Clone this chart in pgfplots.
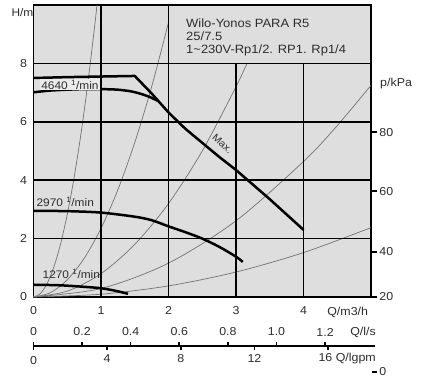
\documentclass[border=0pt]{standalone}
\usepackage{fontspec}
\setmainfont{Liberation Sans}[FakeStretch=1.08]
\usepackage{pgfplots}
\pgfplotsset{compat=1.18}
\definecolor{bg}{RGB}{222,222,222}
\definecolor{txt}{RGB}{45,45,45}
\definecolor{sys}{RGB}{115,115,115}
\begin{document}
\begin{tikzpicture}[
  lab/.style={font=\fontsize{11.5}{13}\selectfont, text=txt, inner sep=0pt},
]
\fill[bg] (0,0) rectangle (337.5pt,292pt);
\begin{axis}[
  at={(0,0)}, anchor=south west,
  scale only axis, width=337.5pt, height=292pt,
  xmin=0, xmax=5, ymin=0, ymax=10,
  axis line style={line width=1.8pt},
  xtick={0,1,2,3,4}, ytick={0,2,4,6,8},
  major tick length=0pt,
  tick label style={font=\fontsize{11.5}{13}\selectfont, text=txt},
  /pgf/number format/assume math mode=true,
  xticklabel style={yshift=-6pt},
  yticklabel style={xshift=-3pt},
  clip=false,
]
% system curves
\addplot[sys, line width=0.7pt, smooth] coordinates {(0,0)(0.1,0.113)(0.2,0.452)(0.3,1.017)(0.4,1.808)(0.5,2.825)(0.6,4.068)(0.7,5.537)(0.8,7.232)(0.9,9.153)(0.9407,10)};
\addplot[sys, line width=0.7pt, smooth] coordinates {(0,0)(0.25,0.147)(0.5,0.588)(0.75,1.322)(1,2.35)(1.25,3.672)(1.5,5.288)(1.75,7.197)(2,9.4)};
\addplot[sys, line width=0.7pt, smooth] coordinates {(0,0)(0.5,0.2)(1,0.8)(1.5,1.8)(2,3.2)(2.5,5)(3,7.2)(3.162,8)};
\addplot[sys, line width=0.7pt, smooth] coordinates {(0,0)(1,0.29)(2,1.16)(3,2.61)(4,4.64)(4.5,5.87)(5,7.25)};
\addplot[sys, line width=0.7pt, smooth] coordinates {(0,0)(1,0.095)(2,0.38)(3,0.855)(4,1.52)(5,2.375)};
% grid (filled strips)
\fill[black] ([xshift=-0.85pt]axis cs:1,0) rectangle ([xshift=0.85pt]axis cs:1,10);
\fill[black] ([xshift=-0.85pt]axis cs:2,0) rectangle ([xshift=0.85pt]axis cs:2,10);
\fill[black] ([xshift=-0.85pt]axis cs:3,0) rectangle ([xshift=0.85pt]axis cs:3,8);
\fill[black] ([xshift=-0.85pt]axis cs:4,0) rectangle ([xshift=0.85pt]axis cs:4,8);
\fill[black] ([yshift=-0.85pt]axis cs:0,2) rectangle ([yshift=0.85pt]axis cs:5,2);
\fill[black] ([yshift=-0.85pt]axis cs:0,4) rectangle ([yshift=0.85pt]axis cs:5,4);
\fill[black] ([yshift=-0.85pt]axis cs:0,6) rectangle ([yshift=0.85pt]axis cs:5,6);
\fill[black] ([yshift=-0.85pt]axis cs:0,8) rectangle ([yshift=0.85pt]axis cs:5,8);
% pump curves
\addplot[black, line width=2.5pt, line join=round] coordinates {(0,7.5)(0.5,7.53)(1.0,7.55)(1.5,7.57)(1.75,6.97)(2.0,6.32)(2.25,5.76)(2.5,5.28)(2.75,4.8)(3.0,4.35)(3.5,3.35)(4.0,2.3)};
\addplot[black, line width=2.5pt, line join=round, smooth, tension=0.4] coordinates {(0,7.01)(0.25,7.07)(0.5,7.1)(0.75,7.12)(1.0,7.12)(1.25,7.1)(1.45,7.04)(1.6,6.95)(1.72,6.85)(1.85,6.71)};
\addplot[black, line width=2.5pt, smooth] coordinates {(0,2.95)(0.5,2.94)(1,2.89)(1.5,2.75)(1.75,2.63)(2,2.42)(2.25,2.22)(2.5,2.0)(2.75,1.72)(3.0,1.38)(3.1,1.2)};
\addplot[black, line width=2.5pt, smooth] coordinates {(0,0.42)(0.4,0.4)(0.8,0.34)(1.0,0.3)(1.2,0.22)(1.4,0.11)};
% curve labels
\node[lab, font=\fontsize{11}{12}\selectfont, fill=white!92!black, inner sep=1pt] at (axis cs:0.54,7.28) {4640 \textsuperscript{1}/min};
\node[lab, font=\fontsize{11}{12}\selectfont] at (axis cs:0.47,3.24) {2970 \textsuperscript{1}/min};
\node[lab, font=\fontsize{11}{12}\selectfont] at (axis cs:0.56,0.79) {1270 \textsuperscript{1}/min};
\node[lab, font=\fontsize{10}{11}\selectfont, rotate=-42] at (axis cs:2.8,5.25) {Max.};
% header
\node[lab, font=\fontsize{12}{12.8}\selectfont, anchor=north west, align=left] at (axis cs:2.26,9.53) {Wilo-Yonos PARA R5\\25/7.5\\1\textasciitilde230V-Rp1/2. RP1. Rp1/4};
% axis titles
\node[lab, font=\fontsize{11}{12}\selectfont, anchor=east] at ([yshift=-8pt]axis cs:0,10) {H/m};
\node[lab, anchor=west] at ([xshift=9pt]axis cs:5,7.3) {p/kPa};
% right kPa ticks
\draw[line width=1.8pt] (axis cs:5,5.64) -- ++(6pt,0) node[lab, anchor=west, xshift=1.5pt] {80};
\draw[line width=1.8pt] (axis cs:5,3.62) -- ++(6pt,0) node[lab, anchor=west, xshift=1.5pt] {60};
\draw[line width=1.8pt] (axis cs:5,1.54) -- ++(6pt,0) node[lab, anchor=west, xshift=1.5pt] {40};
\draw[line width=1.8pt] (axis cs:5,0) -- ++(6pt,0) node[lab, anchor=west, xshift=1.5pt] {20};
\draw[line width=1.8pt] ([xshift=1.5pt]axis cs:5,-2.56) -- ++(4.5pt,0) node[lab, anchor=west, xshift=1.5pt] {0};
% Q m3/h unit
\node[lab, anchor=west] at (axis cs:4.35,-0.514) {Q/m3/h};
% l/s row
\node[lab] at (axis cs:0,-1.2) {0};
\node[lab] at (axis cs:0.72,-1.2) {0.2};
\node[lab] at (axis cs:1.44,-1.2) {0.4};
\node[lab] at (axis cs:2.16,-1.2) {0.6};
\node[lab] at (axis cs:2.88,-1.2) {0.8};
\node[lab] at (axis cs:3.6,-1.2) {1.0};
\node[lab] at (axis cs:4.32,-1.2) {1.2};
\node[lab, anchor=west] at (axis cs:4.69,-1.2) {Q/l/s};
% lgpm scale
\fill[black] ([yshift=-0.9pt]axis cs:0,-1.678) rectangle ([yshift=0.9pt]axis cs:5.06,-1.678);
\fill[black] ([xshift=-0.8pt]axis cs:0,-1.53) rectangle ([xshift=0.8pt]axis cs:0,-1.82);
\fill[black] ([xshift=-0.8pt]axis cs:0.72,-1.678) rectangle ([xshift=0.8pt]axis cs:0.72,-1.54);
\fill[black] ([xshift=-0.8pt]axis cs:1.44,-1.678) rectangle ([xshift=0.8pt]axis cs:1.44,-1.54);
\fill[black] ([xshift=-0.8pt]axis cs:2.16,-1.678) rectangle ([xshift=0.8pt]axis cs:2.16,-1.54);
\fill[black] ([xshift=-0.8pt]axis cs:2.88,-1.678) rectangle ([xshift=0.8pt]axis cs:2.88,-1.54);
\fill[black] ([xshift=-0.8pt]axis cs:3.6,-1.678) rectangle ([xshift=0.8pt]axis cs:3.6,-1.54);
\fill[black] ([xshift=-0.8pt]axis cs:4.32,-1.678) rectangle ([xshift=0.8pt]axis cs:4.32,-1.54);
\fill[black] ([xshift=-0.8pt]axis cs:1.091,-1.678) rectangle ([xshift=0.8pt]axis cs:1.091,-1.83);
\fill[black] ([xshift=-0.8pt]axis cs:2.182,-1.678) rectangle ([xshift=0.8pt]axis cs:2.182,-1.83);
\fill[black] ([xshift=-0.8pt]axis cs:3.273,-1.678) rectangle ([xshift=0.8pt]axis cs:3.273,-1.83);
\fill[black] ([xshift=-0.8pt]axis cs:4.364,-1.678) rectangle ([xshift=0.8pt]axis cs:4.364,-1.83);
\node[lab] at (axis cs:0,-2.16) {0};
\node[lab] at (axis cs:1.091,-2.12) {4};
\node[lab] at (axis cs:2.182,-2.12) {8};
\node[lab] at (axis cs:3.273,-2.12) {12};
\node[lab, anchor=west] at (axis cs:4.22,-2.12) {16 Q/lgpm};
\end{axis}
\pgfresetboundingbox
\useasboundingbox (-33.5pt,-82pt) rectangle (389.5pt,297pt);
\end{tikzpicture}
\end{document}
